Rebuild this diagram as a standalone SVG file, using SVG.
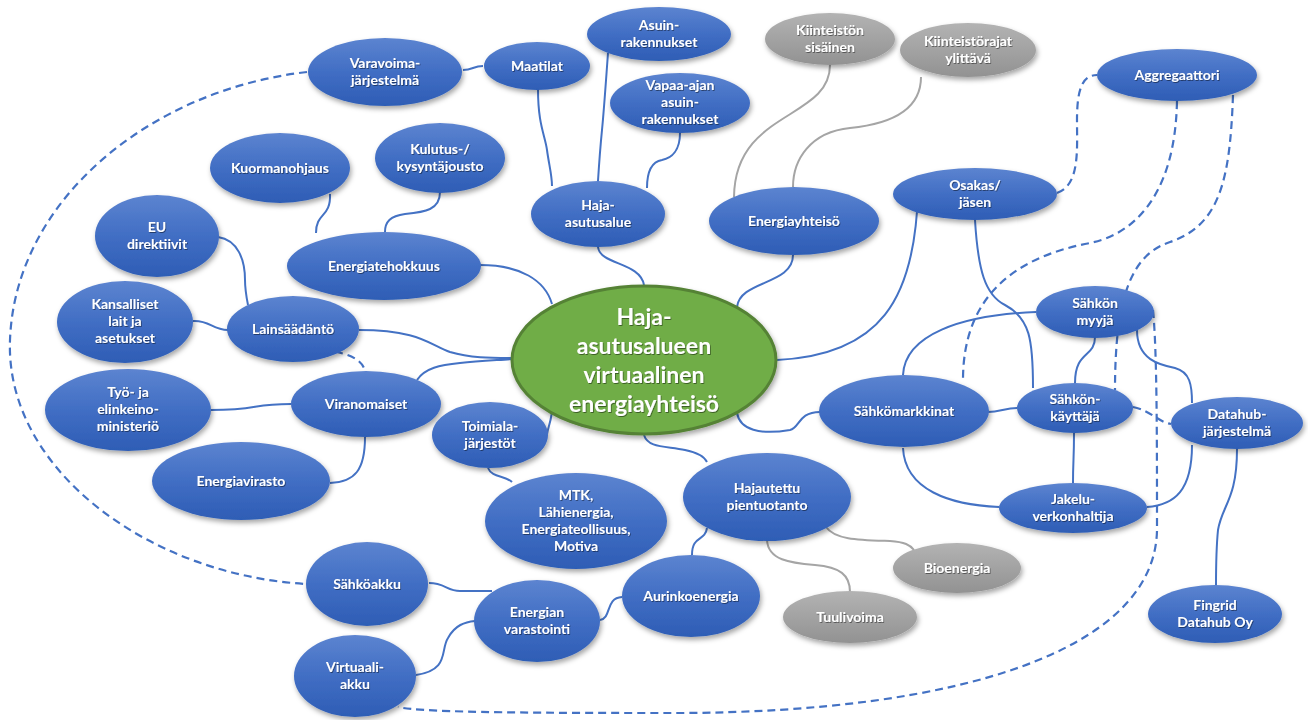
<svg xmlns="http://www.w3.org/2000/svg" width="1308" height="720" viewBox="0 0 1308 720">
<defs>
<linearGradient id="gb" x1="0" y1="0" x2="0" y2="1">
<stop offset="0" stop-color="#5c84d0"/><stop offset="0.5" stop-color="#416ec4"/><stop offset="1" stop-color="#2e5db5"/>
</linearGradient>
<linearGradient id="gg" x1="0" y1="0" x2="0" y2="1">
<stop offset="0" stop-color="#b3b3b3"/><stop offset="1" stop-color="#929292"/>
</linearGradient>
<filter id="sh" x="-20%" y="-20%" width="140%" height="150%">
<feDropShadow dx="1.5" dy="3" stdDeviation="2.5" flood-color="#000" flood-opacity="0.35"/>
</filter>
<filter id="ts" x="-10%" y="-30%" width="120%" height="160%">
<feDropShadow dx="0.8" dy="1" stdDeviation="0.7" flood-color="#000" flood-opacity="0.45"/>
</filter>
<style>
.n ellipse{fill:url(#gb);filter:url(#sh)}
.g ellipse{fill:url(#gg);filter:url(#sh)}
text{font-family:Lato,"Liberation Sans",sans-serif;font-weight:700;font-size:14px;fill:#fff;text-anchor:middle;filter:url(#ts)}
.c path{fill:none;stroke:#4472c4;stroke-width:2}
.c path.gr{stroke:#a5a5a5}
.c path.d{stroke-dasharray:8 5;stroke-width:2.2}
</style>
</defs>
<rect width="1308" height="720" fill="#fff"/>
<g id="connectors" class="c">
<path d="M463 70 C473 70 473 66 483 66"/>
<path d="M538 89 C538 125 545 135 547 150 C549 165 552 175 552 186"/>
<path d="M608 53 C606 80 604 110 602 130 C600 150 599 165 598 181"/>
<path d="M680 133 C680 150 672 158 662 160 C650 162 647 175 647 188"/>
<path d="M598 247 C600 265 640 262 644 285"/>
<path d="M793 255 C793 285 740 280 737 307"/>
<path class="gr" d="M830 65 C830 120 735 110 734 197"/>
<path class="gr" d="M921 77 C921 115 880 125 850 128 C810 132 793 160 793 187"/>
<path d="M918 192 C915 300 880 355 777 360"/>
<path class="d" d="M1057 193 C1080 185 1077 150 1077 120 C1077 90 1082 75 1097 75"/>
<path class="d" d="M1177 101 C1175 200 1130 235 1090 243 C1010 258 963 300 963 380"/>
<path class="d" d="M1233 95 C1230 180 1220 225 1170 242 C1130 255 1115 300 1115 390"/>
<path class="d" d="M1153 310 C1157 350 1157 440 1157 530 C1155 650 960 712 680 713 C560 713 420 713 398 707"/>
<path class="d" d="M307 72 C150 90 15 200 10 340 C5 470 150 575 306 584"/>
<path class="d" d="M322 350 C345 352 362 358 365 371"/>
<path d="M218 237 C238 240 245 260 245 280 C245 290 247 300 248 305"/>
<path d="M193 321 C210 320 212 330 228 330"/>
<path d="M359 330 C420 330 430 345 450 352 C470 358 490 358 512 358"/>
<path d="M417 380 C425 368 440 365 460 363 C480 361 500 360 512 359"/>
<path d="M211 410 C260 410 250 404 291 404"/>
<path d="M365 437 C365 470 355 482 330 483"/>
<path d="M480 265 C520 265 545 280 552 304"/>
<path d="M330 194 C331 218 316 212 316 233"/>
<path d="M440 192 C440 210 425 212 405 214 C390 216 385 222 385 232"/>
<path d="M552 412 C550 425 548 428 547 434"/>
<path d="M488 468 C492 478 505 475 512 482"/>
<path d="M644 435 C648 448 665 446 685 450 C700 453 705 458 707 462"/>
<path d="M707 528 C705 542 692 535 692 555"/>
<path class="gr" d="M826 527 C835 540 860 540 890 541 C905 542 910 545 914 550"/>
<path class="gr" d="M767 540 C768 560 790 563 815 565 C840 567 850 575 850 592"/>
<path d="M600 620 C612 618 605 598 622 597"/>
<path d="M429 583 C445 583 447 591 460 591 L492 591"/>
<path d="M416 675 C450 670 440 650 448 638 C455 625 465 622 475 621"/>
<path d="M737 413 C740 430 760 435 790 430 C800 428 798 412 820 412"/>
<path d="M988 412 C1000 412 1005 408 1017 408"/>
<path d="M903 375 C905 335 960 315 1036 312"/>
<path d="M903 448 C905 490 950 505 999 507"/>
<path d="M975 220 C978 270 985 295 1005 305 C1030 318 1033 340 1033 388"/>
<path d="M1095 337 C1095 358 1075 350 1075 383"/>
<path d="M1137 330 C1137 360 1160 365 1175 368 C1190 372 1192 385 1192 403"/>
<path class="d" d="M1133 407 C1150 410 1158 422 1171 424"/>
<path d="M1074 433 C1074 460 1073 460 1073 483"/>
<path d="M1147 507 C1175 505 1192 490 1192 445"/>
<path d="M1237 449 C1237 500 1222 505 1218 530 C1216 550 1216 570 1216 586"/>
</g>
<g id="center">
<ellipse cx="644" cy="360" rx="132" ry="74" fill="#70ad47" stroke="#548235" stroke-width="3" filter="url(#sh)"/>
<text x="644" y="325" style="font-size:23px">Haja-</text>
<text x="644" y="354" style="font-size:23px">asutusalueen</text>
<text x="644" y="383" style="font-size:23px">virtuaalinen</text>
<text x="644" y="412" style="font-size:23px">energiayhteisö</text>
</g>
<g id="varavoima" class="n"><ellipse cx="385" cy="72" rx="77" ry="34"/><text x="385" y="68">Varavoima-</text><text x="385" y="85">järjestelmä</text></g>
<g id="maatilat" class="n"><ellipse cx="537" cy="66" rx="53" ry="24"/><text x="537" y="71">Maatilat</text></g>
<g id="asuin" class="n"><ellipse cx="659" cy="34" rx="72" ry="27"/><text x="659" y="30">Asuin-</text><text x="659" y="47">rakennukset</text></g>
<g id="vapaa" class="n"><ellipse cx="680" cy="103" rx="70" ry="30"/><text x="680" y="90">Vapaa-ajan</text><text x="680" y="107">asuin-</text><text x="680" y="124">rakennukset</text></g>
<g id="kiinteiston" class="g"><ellipse cx="830" cy="39" rx="65" ry="26"/><text x="830" y="35">Kiinteistön</text><text x="830" y="52">sisäinen</text></g>
<g id="kiinteistorajat" class="g"><ellipse cx="968" cy="50" rx="68" ry="27"/><text x="968" y="46">Kiinteistörajat</text><text x="968" y="63">ylittävä</text></g>
<g id="aggregaattori" class="n"><ellipse cx="1177" cy="75" rx="80" ry="26"/><text x="1177" y="80">Aggregaattori</text></g>
<g id="osakas" class="n"><ellipse cx="975" cy="194" rx="82" ry="26"/><text x="975" y="190">Osakas/</text><text x="975" y="207">jäsen</text></g>
<g id="energiayhteiso" class="n"><ellipse cx="794" cy="221" rx="85" ry="34"/><text x="794" y="226">Energiayhteisö</text></g>
<g id="haja" class="n"><ellipse cx="598" cy="214" rx="67" ry="33"/><text x="598" y="210">Haja-</text><text x="598" y="227">asutusalue</text></g>
<g id="kulutus" class="n"><ellipse cx="440" cy="158" rx="65" ry="35"/><text x="440" y="154">Kulutus-/</text><text x="440" y="171">kysyntäjousto</text></g>
<g id="kuormanohjaus" class="n"><ellipse cx="280" cy="168" rx="70" ry="35"/><text x="280" y="173">Kuormanohjaus</text></g>
<g id="eu" class="n"><ellipse cx="157" cy="236" rx="62" ry="41"/><text x="157" y="232">EU</text><text x="157" y="249">direktiivit</text></g>
<g id="energiatehokkuus" class="n"><ellipse cx="384" cy="266" rx="97" ry="34"/><text x="384" y="271">Energiatehokkuus</text></g>
<g id="kansalliset" class="n"><ellipse cx="125" cy="322" rx="68" ry="41"/><text x="125" y="309">Kansalliset</text><text x="125" y="326">lait ja</text><text x="125" y="343">asetukset</text></g>
<g id="lainsaadanto" class="n"><ellipse cx="293" cy="329" rx="66" ry="33"/><text x="293" y="334">Lainsäädäntö</text></g>
<g id="viranomaiset" class="n"><ellipse cx="366" cy="404" rx="75" ry="33"/><text x="366" y="409">Viranomaiset</text></g>
<g id="tem" class="n"><ellipse cx="128" cy="410" rx="83" ry="41"/><text x="128" y="397">Työ- ja</text><text x="128" y="414">elinkeino-</text><text x="128" y="431">ministeriö</text></g>
<g id="energiavirasto" class="n"><ellipse cx="241" cy="481" rx="89" ry="39"/><text x="241" y="486">Energiavirasto</text></g>
<g id="toimiala" class="n"><ellipse cx="490" cy="435" rx="58" ry="33"/><text x="490" y="431">Toimiala-</text><text x="490" y="448">järjestöt</text></g>
<g id="mtk" class="n"><ellipse cx="576" cy="521" rx="91" ry="48"/><text x="576" y="500">MTK,</text><text x="576" y="517">Lähienergia,</text><text x="576" y="534">Energiateollisuus,</text><text x="576" y="551">Motiva</text></g>
<g id="hajautettu" class="n"><ellipse cx="767" cy="497" rx="84" ry="44"/><text x="767" y="493">Hajautettu</text><text x="767" y="510">pientuotanto</text></g>
<g id="sahkomarkkinat" class="n"><ellipse cx="904" cy="411" rx="85" ry="36"/><text x="904" y="416">Sähkömarkkinat</text></g>
<g id="myyja" class="n"><ellipse cx="1095" cy="312" rx="59" ry="26"/><text x="1095" y="308">Sähkön</text><text x="1095" y="325">myyjä</text></g>
<g id="kayttaja" class="n"><ellipse cx="1075" cy="408" rx="58" ry="25"/><text x="1075" y="404">Sähkön-</text><text x="1075" y="421">käyttäjä</text></g>
<g id="datahub" class="n"><ellipse cx="1237" cy="423" rx="66" ry="26"/><text x="1237" y="419">Datahub-</text><text x="1237" y="436">järjestelmä</text></g>
<g id="jakelu" class="n"><ellipse cx="1073" cy="508" rx="74" ry="25"/><text x="1073" y="504">Jakelu-</text><text x="1073" y="521">verkonhaltija</text></g>
<g id="fingrid" class="n"><ellipse cx="1215" cy="614" rx="67" ry="29"/><text x="1215" y="610">Fingrid</text><text x="1215" y="627">Datahub Oy</text></g>
<g id="bioenergia" class="g"><ellipse cx="957" cy="568" rx="64" ry="25"/><text x="957" y="573">Bioenergia</text></g>
<g id="tuulivoima" class="g"><ellipse cx="850" cy="617" rx="67" ry="26"/><text x="850" y="622">Tuulivoima</text></g>
<g id="aurinko" class="n"><ellipse cx="691" cy="596" rx="69" ry="41"/><text x="691" y="601">Aurinkoenergia</text></g>
<g id="varastointi" class="n"><ellipse cx="537" cy="621" rx="63" ry="41"/><text x="537" y="617">Energian</text><text x="537" y="634">varastointi</text></g>
<g id="sahkoakku" class="n"><ellipse cx="367" cy="584" rx="61" ry="42"/><text x="367" y="589">Sähköakku</text></g>
<g id="virtuaaliakku" class="n"><ellipse cx="355" cy="676" rx="61" ry="41"/><text x="355" y="672">Virtuaali-</text><text x="355" y="689">akku</text></g>
</svg>
